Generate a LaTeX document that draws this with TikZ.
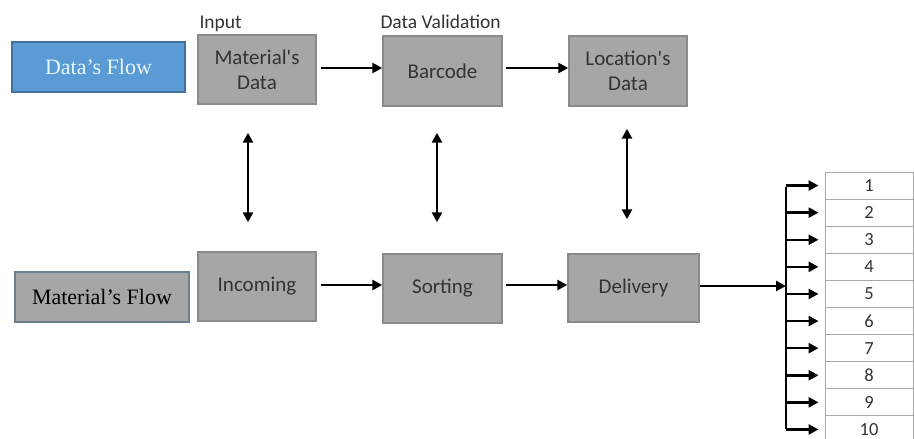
\documentclass[tikz,border=0pt]{standalone}
\usepackage{fontspec}
\newfontfamily\boxface{Carlito}
\newfontfamily\serifface{Liberation Serif}
\usetikzlibrary{arrows.meta,calc}

\definecolor{boxfill}{HTML}{A6A6A6}
\definecolor{boxline}{HTML}{8A8A8A}
\definecolor{flowblue}{HTML}{5B9BD5}
\definecolor{flowblueline}{HTML}{41719C}
\definecolor{slateline}{HTML}{6F7F92}
\definecolor{textgray}{HTML}{333333}
\definecolor{gridline}{HTML}{A8A8A8}

\tikzset{
  procbox/.style={draw=boxline, fill=boxfill, line width=1.4pt, inner sep=0pt,
    align=center, text=textgray, font=\boxface\fontsize{21}{25}\selectfont},
  flowbox/.style={line width=1.4pt, inner sep=0pt, align=center,
    font=\serifface\fontsize{22}{26}\selectfont},
  caption/.style={anchor=base west, inner sep=0pt, text=textgray,
    font=\boxface\fontsize{19.5}{23}\selectfont},
  slot/.style={draw=gridline, line width=0.9pt, minimum width=88pt,
    minimum height=27.1pt, inner sep=0pt, text=textgray,
    font=\boxface\fontsize{18.5}{20}\selectfont},
  link/.style={line width=2.5pt, -{Triangle[length=10pt,width=10pt]}},
  duplex/.style={line width=2.5pt, {Triangle[length=10pt,width=10pt]}-{Triangle[length=10pt,width=10pt]}},
}

\begin{document}
\begin{tikzpicture}[x=1pt, y=-1pt]
  \useasboundingbox (0,0) rectangle (914,439);
  \clip (0,0) rectangle (914,439);

  % legend boxes
  \node[flowbox, draw=flowblueline, fill=flowblue, text=white!90!cyan,
        minimum width=173pt, minimum height=50pt] (dataflow) at (98.5,67) {Data’s Flow};
  \node[flowbox, draw=slateline, fill=boxfill, text=black,
        minimum width=174pt, minimum height=50pt] (matflow) at (102,297) {Material’s Flow};

  % data row
  \node[procbox, minimum width=118pt, minimum height=69pt] (matdata) at (257,69.5) {Material's\\Data};
  \node[procbox, minimum width=119pt, minimum height=70pt] (barcode) at (442.5,71) {Barcode};
  \node[procbox, minimum width=118pt, minimum height=70pt] (locdata) at (628,71) {Location's\\Data};

  % material row
  \node[procbox, minimum width=118pt, minimum height=69pt] (incoming) at (257,286.5) {Incoming};
  \node[procbox, minimum width=119pt, minimum height=69pt] (sorting) at (442.5,288.5) {Sorting};
  \node[procbox, minimum width=131pt, minimum height=68pt] (delivery) at (633.5,288) {Delivery};

  % captions above the data row
  \node[caption] (inputcap) at ($(matdata.north west)+(2,-6)$) {Input};
  \node[caption] (validcap) at ($(barcode.north west)+(-2,-7)$) {Data Validation};

  % horizontal flow
  \draw[link, shorten <=4pt] (matdata.east |- 0,68) -- (barcode.west |- 0,68);
  \draw[link, shorten <=3pt] (barcode.east |- 0,68) -- (locdata.west |- 0,68);
  \draw[link, shorten <=4pt] (incoming.east |- 0,285) -- (sorting.west |- 0,285);
  \draw[link, shorten <=3pt] (sorting.east |- 0,285) -- (delivery.west |- 0,285);

  % links between the two rows
  \draw[duplex, shorten <=28pt, shorten >=29pt]
    ([xshift=-9pt]matdata.south) -- ([xshift=-9pt]matdata.south |- incoming.north);
  \draw[duplex, shorten <=26pt, shorten >=31pt]
    ([xshift=-5.5pt]barcode.south) -- ([xshift=-5.5pt]barcode.south |- sorting.north);
  \draw[duplex, shorten <=22pt, shorten >=34pt]
    ([xshift=-1pt]locdata.south) -- ([xshift=-1pt]locdata.south |- delivery.north);

  % destination slots
  \foreach \i in {1,...,10} {
    \node[slot] (slot\i) at (869, {185.55+27.1*(\i-1)}) {\i};
  }

  % distribution trunk
  \coordinate (trunktop) at (786,187);
  \coordinate (trunkbot) at (786,429);
  \coordinate (trunkin) at (786,286);
  \draw[line width=2.5pt] (trunktop) -- (trunkbot);
  \draw[link] (delivery.east |- trunkin) -- (trunkin);
  \foreach \i in {1,...,10} {
    \draw[link, shorten >=6pt] (trunktop |- slot\i.west) -- (slot\i.west);
  }
\end{tikzpicture}
\end{document}
